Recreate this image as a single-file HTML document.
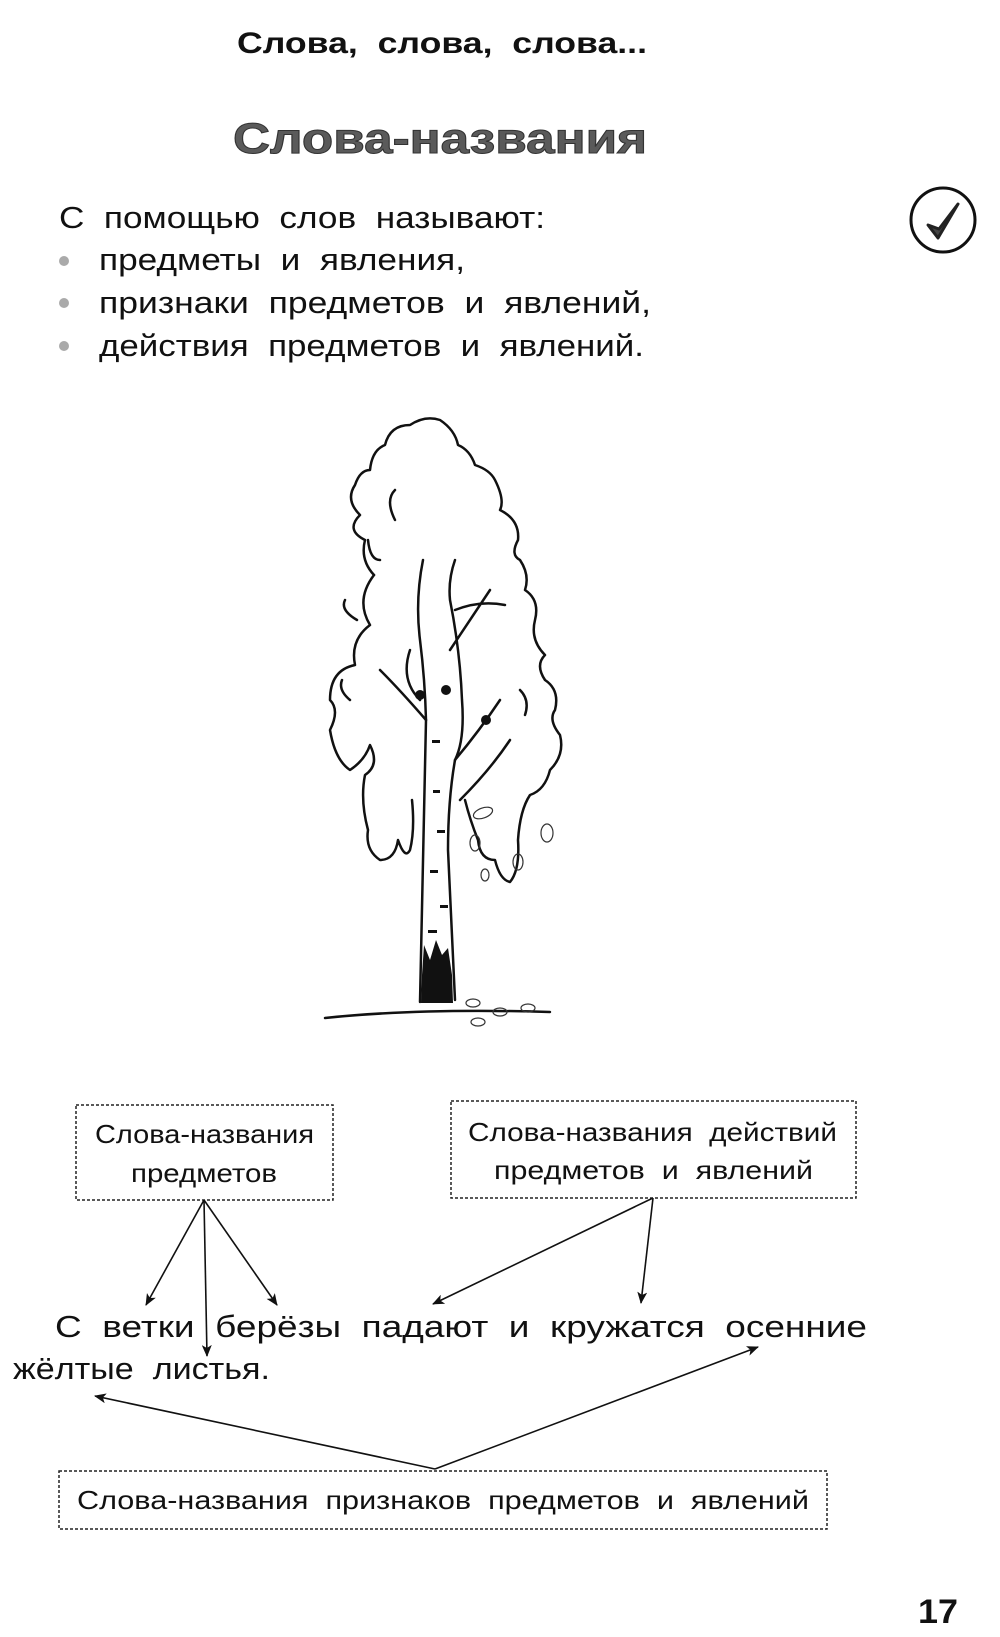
<!DOCTYPE html>
<html><head><meta charset="utf-8">
<style>
html,body{margin:0;padding:0;background:#fff;}
svg{display:block;}
text{font-family:"Liberation Sans","DejaVu Sans",sans-serif;fill:#111;white-space:pre;}
</style></head>
<body>
<svg width="1000" height="1637" viewBox="0 0 1000 1637" xmlns="http://www.w3.org/2000/svg" xml:space="preserve">
<defs>
<marker id="ah" viewBox="0 0 12 10" refX="11" refY="5" markerWidth="12" markerHeight="10" markerUnits="userSpaceOnUse" orient="auto">
<path d="M0,0 L12,5 L0,10 L3,5 Z" fill="#111"/>
</marker>
</defs>

<text x="237" y="53" font-size="30" font-weight="bold" textLength="410" lengthAdjust="spacingAndGlyphs">Слова,  слова,  слова...</text>
<text x="233" y="153" font-size="43" font-weight="bold" textLength="414" lengthAdjust="spacingAndGlyphs" style="fill:#5a5a5a;stroke:#333;stroke-width:1">Слова-названия</text>

<text x="59" y="228" font-size="31" textLength="486" lengthAdjust="spacingAndGlyphs">С  помощью  слов  называют:</text>
<circle cx="64" cy="261" r="5" fill="#aaa"/>
<circle cx="64" cy="303" r="5" fill="#aaa"/>
<circle cx="64" cy="346" r="5" fill="#aaa"/>
<text x="99" y="270" font-size="31" textLength="366" lengthAdjust="spacingAndGlyphs">предметы  и  явления,</text>
<text x="99" y="313" font-size="31" textLength="552" lengthAdjust="spacingAndGlyphs">признаки  предметов  и  явлений,</text>
<text x="99" y="356" font-size="31" textLength="545" lengthAdjust="spacingAndGlyphs">действия  предметов  и  явлений.</text>

<circle cx="943" cy="220" r="32" fill="none" stroke="#111" stroke-width="3"/>
<path d="M928,225 L938,238 L958,204 L939,229 Z" fill="#444" stroke="#222" stroke-width="3" stroke-linejoin="round"/>

<g fill="none" stroke="#111" stroke-width="2.5" stroke-linecap="round" stroke-linejoin="round">
<path d="M374,575 Q355,600 370,625 Q350,640 355,665 Q330,670 330,700 Q340,710 330,730 Q335,760 350,770 Q365,760 370,745 Q380,765 365,775 Q360,800 368,830 Q365,850 380,860 Q395,860 398,840 Q405,860 410,850 Q415,830 412,800"/>
<path d="M374,575 Q360,560 365,540 Q345,530 360,515 Q345,500 355,485 Q360,470 370,470 Q372,450 385,445 Q390,425 410,425 Q425,415 440,420 Q455,430 458,445 Q470,450 475,465 Q490,470 495,480 Q505,500 500,510 Q520,520 518,540 Q510,555 520,560 Q530,575 525,590 Q540,600 535,620 Q530,640 545,655 Q535,665 545,680 Q560,690 555,710 Q548,720 560,735 Q565,755 550,770 Q545,790 530,795 Q520,810 518,840 Q520,870 510,882 Q500,880 495,860 Q480,860 478,840 Q470,820 465,800"/>
<path d="M357,620 Q340,610 345,600 M380,560 Q370,560 368,540 M395,520 Q385,500 395,490 M350,700 Q338,690 342,680 M520,690 Q530,700 525,715"/>
<path d="M420,1002 L426,720 Q425,680 420,640 Q415,600 423,560 M455,1000 L448,850 Q448,800 455,760 Q465,740 462,700 Q460,650 450,600 Q448,580 455,560"/>
<path d="M426,720 Q400,690 380,670 M420,700 Q400,680 410,650 M455,760 Q480,730 500,700 M460,800 Q490,770 510,740 M450,650 Q470,620 490,590 M455,610 Q480,600 505,605"/>
<path d="M325,1018 Q420,1008 550,1012"/>
</g>
<path d="M422,975 L424,945 L430,960 L436,940 L442,955 L448,948 L452,975 L453,1003 L421,1003 Z" fill="#111"/>
<g fill="#111">
<rect x="432" y="740" width="8" height="3"/><rect x="433" y="790" width="7" height="3"/><rect x="437" y="830" width="8" height="3"/><rect x="430" y="870" width="8" height="3"/><rect x="440" y="905" width="8" height="3"/><rect x="428" y="930" width="9" height="3"/>
<circle cx="420" cy="695" r="5"/><circle cx="446" cy="690" r="5"/><circle cx="486" cy="720" r="5"/>
</g>
<g fill="none" stroke="#333" stroke-width="1.2">
<ellipse cx="483" cy="813" rx="10" ry="5" transform="rotate(-20 483 813)"/>
<ellipse cx="547" cy="833" rx="6" ry="9"/>
<ellipse cx="475" cy="843" rx="5" ry="8"/>
<ellipse cx="518" cy="862" rx="5" ry="8"/>
<ellipse cx="485" cy="875" rx="4" ry="6"/>
<ellipse cx="473" cy="1003" rx="7" ry="4"/><ellipse cx="500" cy="1012" rx="7" ry="4"/><ellipse cx="528" cy="1008" rx="7" ry="4"/><ellipse cx="478" cy="1022" rx="7" ry="4"/>
</g>

<g fill="none" stroke="#222" stroke-width="1.5" stroke-dasharray="3,2">
<rect x="76" y="1105" width="257" height="95"/>
<rect x="451" y="1101" width="405" height="97"/>
<rect x="59" y="1471" width="768" height="58"/>
</g>
<text x="95" y="1143" font-size="26" textLength="219" lengthAdjust="spacingAndGlyphs">Слова-названия</text>
<text x="131" y="1182" font-size="26" textLength="146" lengthAdjust="spacingAndGlyphs">предметов</text>
<text x="468" y="1141" font-size="26" textLength="369" lengthAdjust="spacingAndGlyphs">Слова-названия  действий</text>
<text x="494" y="1179" font-size="26" textLength="319" lengthAdjust="spacingAndGlyphs">предметов  и  явлений</text>
<text x="77" y="1509" font-size="26" textLength="732" lengthAdjust="spacingAndGlyphs">Слова-названия  признаков  предметов  и  явлений</text>

<text x="55" y="1337" font-size="31" textLength="812" lengthAdjust="spacingAndGlyphs">С  ветки  берёзы  падают  и  кружатся  осенние</text>
<text x="13" y="1379" font-size="31" textLength="257" lengthAdjust="spacingAndGlyphs">жёлтые  листья.</text>

<g stroke="#111" stroke-width="1.6" fill="none" marker-end="url(#ah)">
<line x1="204" y1="1200" x2="146" y2="1305"/>
<line x1="204" y1="1200" x2="207" y2="1356"/>
<line x1="204" y1="1200" x2="277" y2="1305"/>
<line x1="653" y1="1198" x2="433" y2="1304"/>
<line x1="653" y1="1198" x2="641" y2="1303"/>
<line x1="435" y1="1469" x2="95" y2="1396"/>
<line x1="435" y1="1469" x2="758" y2="1347"/>
</g>

<text x="918" y="1623" font-size="34" font-weight="bold" textLength="40" lengthAdjust="spacingAndGlyphs">17</text>
</svg>
</body></html>
